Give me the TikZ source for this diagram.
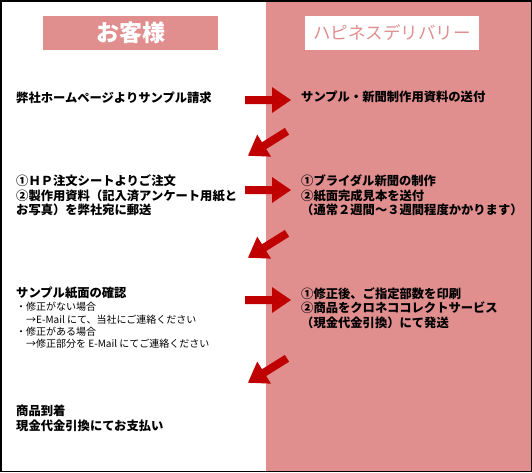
\documentclass[tikz,border=0pt]{standalone}
\usepackage{fontspec}
\setmainfont{Noto Sans CJK JP}
\definecolor{panelpink}{RGB}{224,142,142}
\definecolor{arrowred}{RGB}{192,0,0}
\tikzset{
  txt/.style={anchor=west, inner sep=0pt, align=left, text=black,
    font=\fontsize{12.3}{14.5}\selectfont\bfseries},
  smalltxt/.style={anchor=west, inner sep=0pt, align=left, text=black,
    font=\fontsize{10}{12.4}\selectfont},
  bigarrow/.pic={
    \fill[arrowred] (-23,-4) -- (4,-4) -- (4,-13) -- (23,0) -- (4,13) -- (4,4) -- (-23,4) -- cycle;
  }
}
\begin{document}
\begin{tikzpicture}[x=1pt,y=-1pt]
\useasboundingbox (0,0) rectangle (532,472);
% right panel
\fill[panelpink] (266,0) rectangle (532,472);
% headers
\fill[panelpink] (43,16) rectangle (218,50);
\node[inner sep=0pt, text=white, font=\fontsize{23}{23}\selectfont\bfseries] (h1) at (130.5,33) {お客様};
\fill[white] (305,16) rectangle (479,50);
\node[inner sep=0pt, text=panelpink, font=\fontsize{17.5}{17.5}\selectfont] (h2) at (392,33) {ハピネスデリバリー};
% left column
\node[txt] (l1) at (16,98) {弊社ホームページよりサンプル請求};
\node[txt] (l2) at (16,195.5) {①ＨＰ注文シートよりご注文\\②製作用資料（記入済アンケート用紙と\\お写真）を弊社宛に郵送};
\node[txt] (l3) at (16,293) {サンプル紙面の確認};
\node[smalltxt] (l3b) at (16,325.5) {・修正がない場合\\　→E-Mail にて、当社にご連絡ください\\・修正がある場合\\　→修正部分を E-Mail にてご連絡ください};
\node[txt] (l4) at (16,418.5) {商品到着\\現金代金引換にてお支払い};
% right column
\node[txt] (r1) at (301,97) {サンプル・新聞制作用資料の送付};
\node[txt] (r2) at (301,195.5) {①ブライダル新聞の制作\\②紙面完成見本を送付\\（通常２週間～３週間程度かかります）};
\node[txt] (r3) at (301,308) {①修正後、ご指定部数を印刷\\②商品をクロネココレクトサービス\\（現金代金引換）にて発送};
% arrows
\pic at (268,100) {bigarrow};
\pic[rotate=212] at (267.5,143.5) {bigarrow};
\pic at (268,190) {bigarrow};
\pic[rotate=212] at (267.5,245.5) {bigarrow};
\pic at (268,300) {bigarrow};
\pic[rotate=212] at (267.5,370.5) {bigarrow};
% frame
\draw[black, line width=1.5pt] (0.75,0.75) rectangle (531.25,471.25);
\end{tikzpicture}
\end{document}
